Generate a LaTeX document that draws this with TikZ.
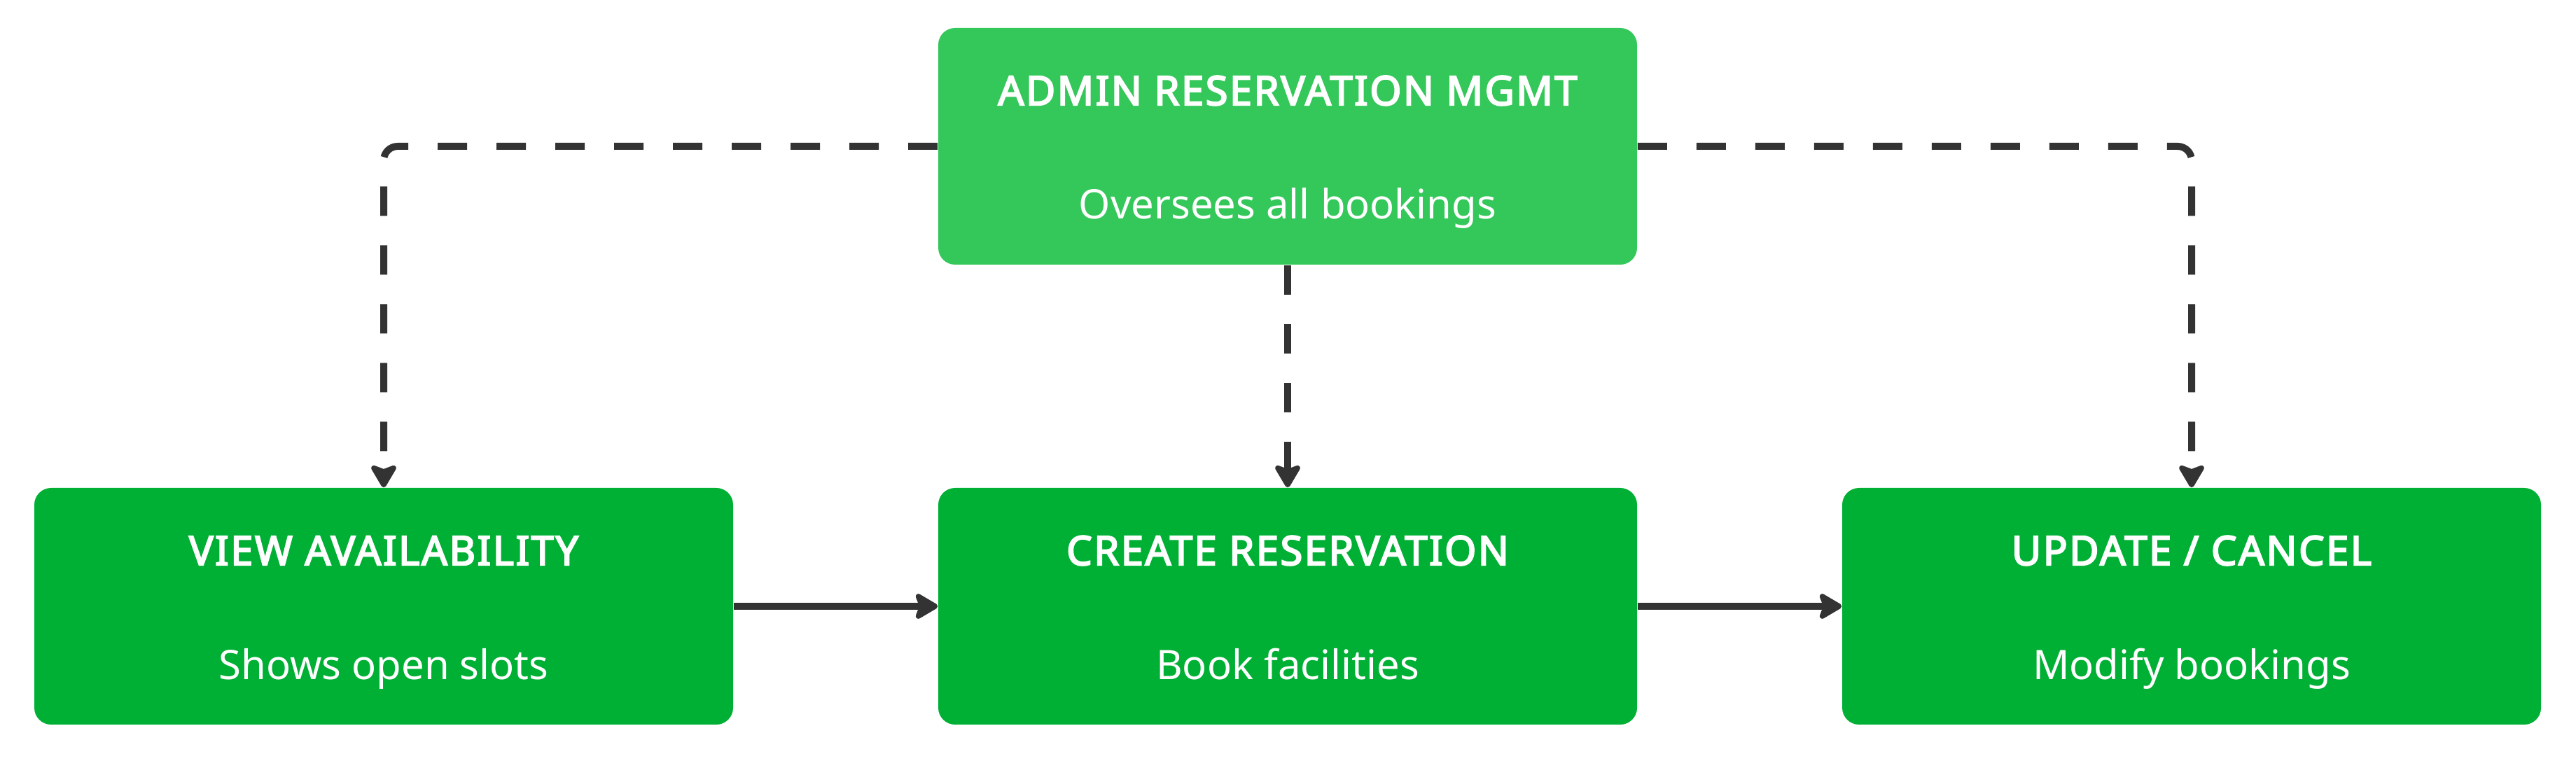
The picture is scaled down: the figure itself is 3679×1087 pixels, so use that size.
\documentclass[tikz,border=0pt]{standalone}
\usepackage{fontspec}
\setmainfont{Noto Sans}[AutoFakeBold=3.5]
\usetikzlibrary{arrows.meta,calc}
\definecolor{topgreen}{HTML}{34C759}
\definecolor{boxgreen}{HTML}{00B035}
\definecolor{linegray}{HTML}{333333}
\begin{document}
\begin{tikzpicture}[x=0.25pt,y=-0.25pt,
  box/.style={rounded corners=6pt, minimum width=249.5pt, minimum height=84.5pt, inner sep=0pt, draw=none},
  ttl/.style={anchor=base, font=\fontsize{14.5}{17}\selectfont\bfseries\addfontfeature{LetterSpace=4.2}, text=white, inner sep=0pt},
  sub/.style={anchor=base, font=\fontsize{14.5}{17}\selectfont, text=white, inner sep=0pt},
  conn/.style={draw=linegray, line width=2.5pt, -{Stealth[length=9.5pt,width=11pt,inset=2pt,round]}},
  dashconn/.style={conn, dash pattern=on 10.5pt off 10.5pt, rounded corners=5pt}]
\useasboundingbox (0,0) rectangle (3679,1087);
\node[box, fill=topgreen] (admin) at (1839,209) {};
\node[box, fill=boxgreen] (view) at (548,866) {};
\node[box, fill=boxgreen] (create) at (1839,866) {};
\node[box, fill=boxgreen] (update) at (3130,866) {};
\node[ttl] (admint) at ($(admin.north)+(0,111)$) {ADMIN RESERVATION MGMT};
\node[sub] (admins) at ($(admin.north)+(0,273)$) {Oversees all bookings};
\node[ttl] (viewt) at ($(view.north)+(0,111)$) {VIEW AVAILABILITY};
\node[sub] (views) at ($(view.north)+(0,274)$) {Shows open slots};
\node[ttl] (createt) at ($(create.north)+(0,111)$) {CREATE RESERVATION};
\node[sub] (creates) at ($(create.north)+(0,274)$) {Book facilities};
\node[ttl] (updatet) at ($(update.north)+(0,111)$) {UPDATE / CANCEL};
\node[sub] (updates) at ($(update.north)+(0,274)$) {Modify bookings};
\draw[dashconn] (admin.west) -| (view.north);
\draw[dashconn] (admin.east) -| (update.north);
\draw[dashconn] (admin.south) -- (create.north);
\draw[conn] (view.east) -- (create.west);
\draw[conn] (create.east) -- (update.west);
\end{tikzpicture}
\end{document}
